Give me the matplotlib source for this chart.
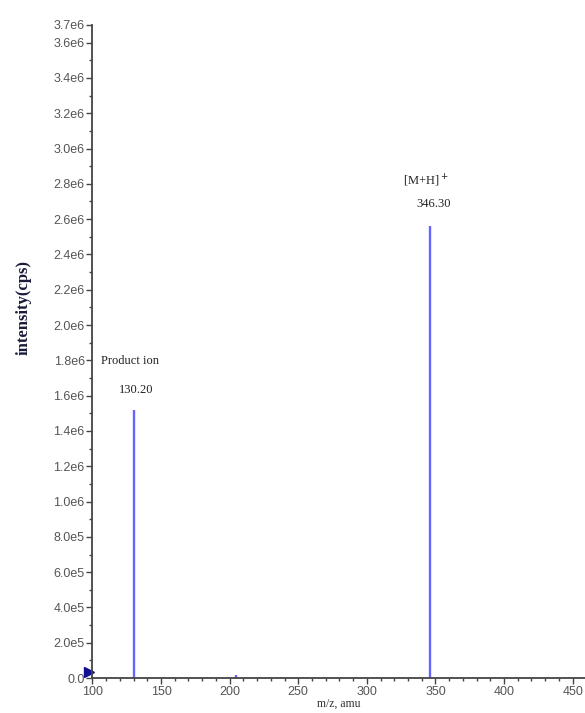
import numpy as np
import matplotlib.pyplot as plt
from matplotlib.ticker import MultipleLocator, FixedLocator

# spectrum peaks (m/z, intensity in cps)
mz = [130.20, 205.0, 346.30]
intensity = [1.52e6, 0.02e6, 2.56e6]
peak_names = ["Product ion", None, "[M+H]$^+$"]
peak_labels = ["130.20", None, "346.30"]

ytick_vals = [0.0, 2.0e5, 4.0e5, 6.0e5, 8.0e5, 1.0e6, 1.2e6, 1.4e6, 1.6e6, 1.8e6,
              2.0e6, 2.2e6, 2.4e6, 2.6e6, 2.8e6, 3.0e6, 3.2e6, 3.4e6, 3.6e6, 3.7e6]
ytick_text = ["0.0", "2.0e5", "4.0e5", "6.0e5", "8.0e5", "1.0e6", "1.2e6", "1.4e6",
              "1.6e6", "1.8e6", "2.0e6", "2.2e6", "2.4e6", "2.6e6", "2.8e6", "3.0e6",
              "3.2e6", "3.4e6", "3.6e6", "3.7e6"]
xticks = [100, 150, 200, 250, 300, 350, 400, 450]

fig = plt.figure(figsize=(5.85, 7.13), dpi=100)
ax = fig.add_axes([0.158, 0.049, 0.842, 0.916])

ax.vlines(mz, 0, intensity, color="#6464ff", lw=1.7)

serif = "Liberation Serif"
# (label offset, name offset) in points above each peak top
offsets = [(10, 31), None, (12, 27)]
for x, h, name, lab, off in zip(mz, intensity, peak_names, peak_labels, offsets):
    if name is None:
        continue
    ax.annotate(lab, (x, h), xytext=(2, off[0]), textcoords="offset points",
                ha="center", va="bottom", family=serif, fontsize=9, color="#222222")
    ax.annotate(name, (x, h), xytext=(-3, off[1]), textcoords="offset points",
                ha="center", va="bottom", family=serif, fontsize=9, color="#222222")

# little marker at the origin of the trace
ax.plot([97.5], [0.035e6], marker=">", color="#101090", ms=7, clip_on=False)

ax.set_xlim(100, 459)
ax.set_ylim(0, 3.7e6)
ax.spines["top"].set_visible(False)
ax.spines["right"].set_visible(False)
for s in ("left", "bottom"):
    ax.spines[s].set_color("#444444")
    ax.spines[s].set_linewidth(1.3)

ax.set_xticks(xticks)
ax.xaxis.set_minor_locator(MultipleLocator(10))
ax.yaxis.set_major_locator(FixedLocator(ytick_vals))
ax.set_yticklabels(ytick_text)
ax.yaxis.set_minor_locator(MultipleLocator(1e5))
ax.tick_params(which="major", length=4, width=1, color="#444444",
               labelsize=9, labelcolor="#555555", pad=1.5)
ax.tick_params(which="minor", length=2.5, width=1, color="#444444")
for t in ax.get_xticklabels() + ax.get_yticklabels():
    t.set_family("Liberation Sans")

ax.set_xlabel("m/z, amu", family=serif, fontsize=8.5, color="#333333", labelpad=0)
ax.set_ylabel("intensity(cps)", family=serif, fontsize=12, fontweight="bold",
              color="#1a1a3a")
ax.yaxis.set_label_coords(-0.123, 0.568)

fig.savefig("out.png", dpi=100)
